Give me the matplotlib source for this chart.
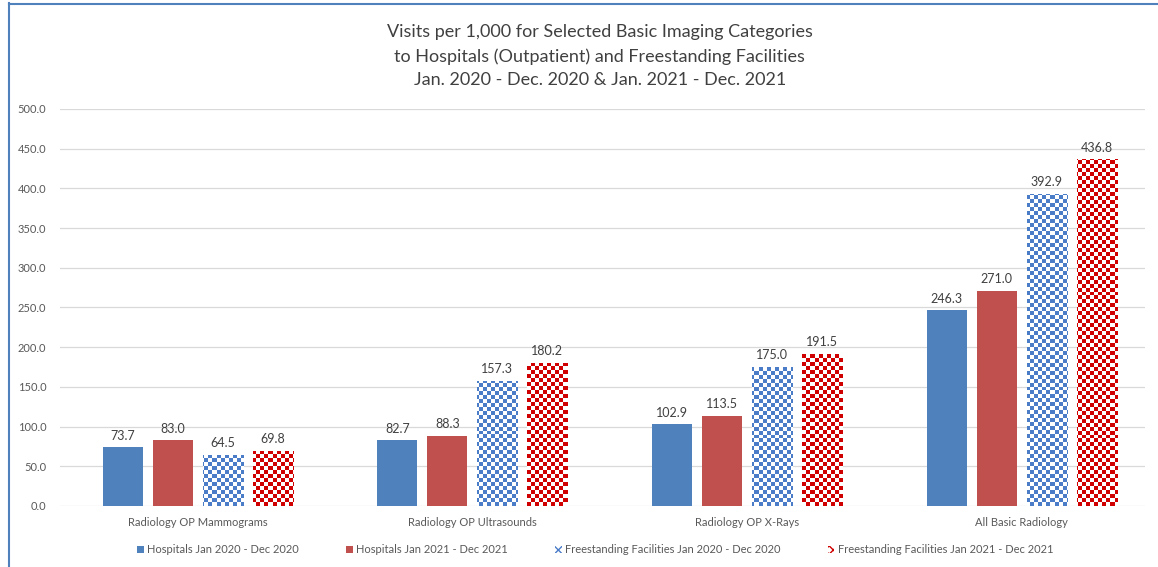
import numpy as np
import matplotlib.pyplot as plt
from matplotlib.patches import Patch
from matplotlib.lines import Line2D

plt.rcParams['font.family'] = ['Lato', 'DejaVu Sans']

categories = ['Radiology OP Mammograms', 'Radiology OP Ultrasounds',
              'Radiology OP X-Rays', 'All Basic Radiology']
series_names = ['Hospitals Jan 2020 - Dec 2020', 'Hospitals Jan 2021 - Dec 2021',
                'Freestanding Facilities Jan 2020 - Dec 2020',
                'Freestanding Facilities Jan 2021 - Dec 2021']
hosp_2020 = [73.7, 82.7, 102.9, 246.3]
hosp_2021 = [83.0, 88.3, 113.5, 271.0]
free_2020 = [64.5, 157.3, 175.0, 392.9]
free_2021 = [69.8, 180.2, 191.5, 436.8]

series = [hosp_2020, hosp_2021, free_2020, free_2021]
colors = ['#4F81BD', '#C0504D', '#4A7CC8', '#D00000']
checker = [False, False, True, True]

fig = plt.figure(figsize=(11.58, 5.67), dpi=100)
ax = fig.add_axes([0.052, 0.1076, 0.937, 0.7004])

x = np.arange(len(categories))
pitch = 0.182
width = 0.146
ymax = 500
xlo, xhi = -0.5, 3.45

# checkerboard image covering the axes, clipped to each patterned bar
ncols, nrows = 272, 100
yy, xx = np.mgrid[0:nrows, 0:ncols]
board = ((xx + yy) % 2).astype(float)

for i, vals in enumerate(series):
    pos = x + (i - 1.5) * pitch
    if checker[i]:
        bars = ax.bar(pos, vals, width, color='white', zorder=2)
        cmap = plt.matplotlib.colors.ListedColormap(['white', colors[i]])
        for b in bars:
            im = ax.imshow(board, cmap=cmap, extent=[xlo, xhi, 0, ymax],
                           aspect='auto', interpolation='nearest', zorder=3,
                           origin='lower')
            im.set_clip_path(b)
    else:
        bars = ax.bar(pos, vals, width, color=colors[i], zorder=2)
    for p, v in zip(pos, vals):
        ax.text(p, v + 7, '%.1f' % v, ha='center', va='bottom',
                fontsize=9, color='#404040')

ax.set_xlim(xlo, xhi)
ax.set_ylim(0, ymax)
ax.set_yticks(np.arange(0, 501, 50))
ax.set_yticklabels(['%.1f' % t for t in np.arange(0, 501, 50)])
ax.set_xticks(x)
ax.set_xticklabels(categories)
ax.tick_params(axis='both', length=0, labelsize=8, colors='#595959', pad=8)
ax.tick_params(axis='y', pad=10)
ax.grid(axis='y', color='#D9D9D9', linewidth=0.9, zorder=0)
for s in ax.spines.values():
    s.set_visible(False)

fig.text(0.518, 0.958, 'Visits per 1,000 for Selected Basic Imaging Categories\n'
         'to Hospitals (Outpatient) and Freestanding Facilities\n'
         'Jan. 2020 - Dec. 2020 & Jan. 2021 - Dec. 2021',
         ha='center', va='top', fontsize=13, color='#404040', linespacing=1.6)

handles = []
for i in range(4):
    if checker[i]:
        handles.append(Patch(facecolor='white', edgecolor=colors[i], hatch='xxxx',
                             linewidth=0))
    else:
        handles.append(Patch(facecolor=colors[i], edgecolor='none'))
leg = fig.legend(handles, series_names, loc='center', bbox_to_anchor=(0.514, 0.03),
                 ncol=4, frameon=False, fontsize=8, handlelength=0.6,
                 handleheight=0.6, handletextpad=0.3, columnspacing=4.25)
for t in leg.get_texts():
    t.set_color('#595959')

# screenshot frame edges
fig.add_artist(Line2D([0.008, 0.008], [0, 0.995], color='#4F81BD', linewidth=1.5))
fig.add_artist(Line2D([0.008, 1], [0.993, 0.993], color='#4F81BD', linewidth=1.5))

fig.savefig('out.png', dpi=100)
